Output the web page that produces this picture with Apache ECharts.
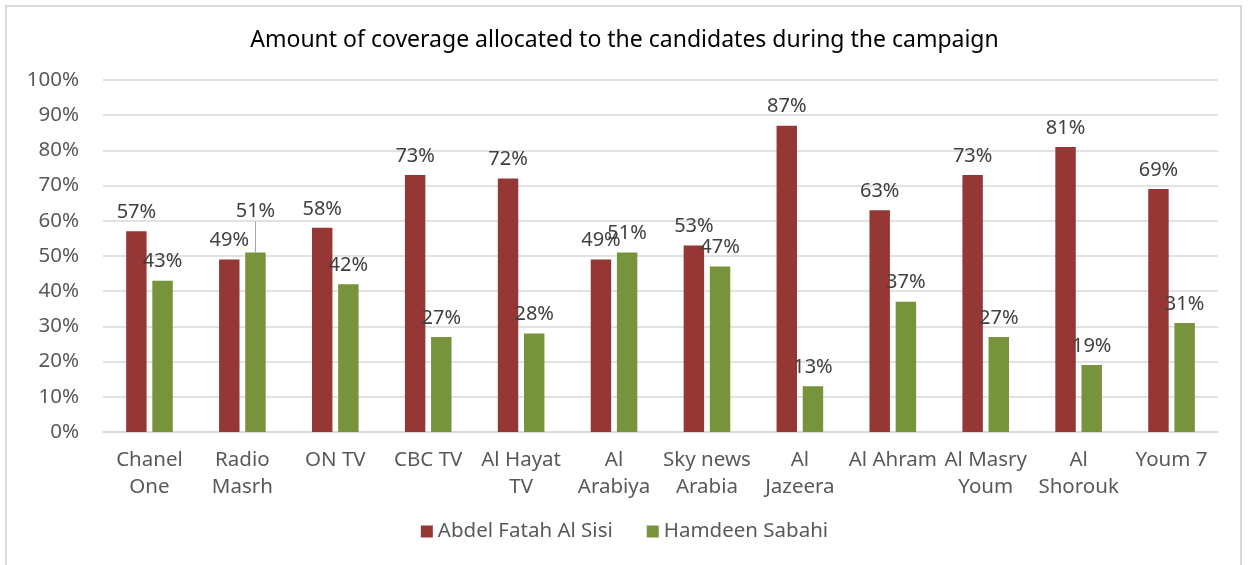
<!DOCTYPE html>
<html><head><meta charset="utf-8">
<script src="https://cdn.jsdelivr.net/npm/echarts@6/dist/echarts.min.js"></script>
<style>
html,body{margin:0;padding:0;background:#fff;overflow:hidden}
#frame{position:absolute;left:5px;top:5px;width:1237px;height:580px;border:2px solid #d9d9d9;box-sizing:border-box}
#c{position:absolute;left:0;top:0;width:1249px;height:565px}
</style></head>
<body><div id="frame"></div><div id="c"></div>
<script>
const titleText = 'Amount of coverage allocated to the candidates during the campaign';
const categories = ['Chanel\nOne','Radio\nMasrh','ON TV','CBC TV','Al Hayat\nTV','Al\nArabiya','Sky news\nArabia','Al\nJazeera','Al Ahram','Al Masry\nYoum','Al\nShorouk','Youm 7'];
const seriesNames = ['Abdel Fatah Al Sisi','Hamdeen Sabahi'];
const sisi = [57,49,58,73,72,49,53,87,63,73,81,69];
const sabahi = [43,51,42,27,28,51,47,13,37,27,19,31];
const yTicks = [0,10,20,30,40,50,60,70,80,90,100];
const colors = ['#953735','#77933C'];
const font = '"Noto Sans", "Open Sans", sans-serif';

const chart = echarts.init(document.getElementById('c'));
const labelCfg = {show:true, position:'top', distance:9, formatter:p=>p.value+'%', color:'#404040', fontSize:20, fontFamily:font};
chart.setOption({
  animation:false,
  title:{text:titleText, left:'center', top:24, textStyle:{fontFamily:font, fontSize:23, fontWeight:'normal', color:'#000'}},
  grid:{left:103, right:31, top:80, bottom:133, containLabel:false},
  legend:{bottom:18, left:'center', itemWidth:12, itemHeight:12, itemGap:34, icon:'rect',
    textStyle:{fontFamily:font, fontSize:20.5, color:'#595959'}, data:seriesNames},
  xAxis:{type:'category', data:categories,
    axisLine:{lineStyle:{color:'#d9d9d9', width:1.5}}, axisTick:{show:false},
    axisLabel:{interval:0, color:'#595959', fontFamily:font, fontSize:20.5, lineHeight:27, margin:15}},
  yAxis:{type:'value', min:yTicks[0], max:yTicks[yTicks.length-1], interval:10,
    axisLine:{show:false}, axisTick:{show:false},
    splitLine:{lineStyle:{color:'#d9d9d9', width:1.5}},
    axisLabel:{formatter:v=>v+'%', color:'#595959', fontFamily:font, fontSize:20.5, margin:24}},
  series:[
    {name:seriesNames[0], type:'bar', data:sisi, itemStyle:{color:colors[0]}, barWidth:'22%', barGap:'28%', label:labelCfg},
    {name:seriesNames[1], type:'bar', itemStyle:{color:colors[1]}, barWidth:'22%', label:labelCfg,
      data:sabahi.map((v,i)=> i===1 ? {value:v, labelLine:{show:true, lineStyle:{color:'#a6a6a6', width:1}}} : v),
      labelLine:{show:false},
      labelLayout:p=> p.dataIndex===1 ? {dy:-22} : {}}
  ]
});
</script></body></html>
